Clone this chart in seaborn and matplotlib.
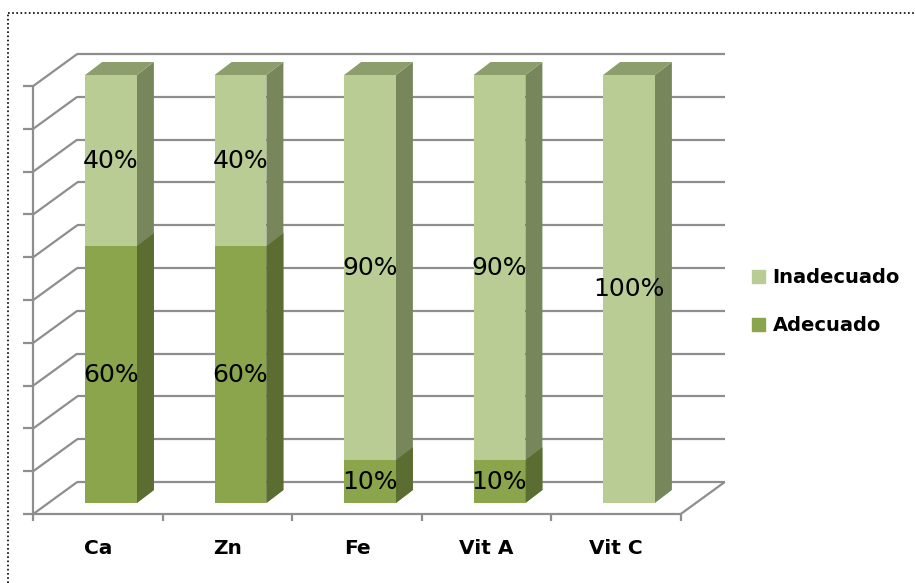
import matplotlib
matplotlib.use("Agg")
import matplotlib.pyplot as plt
import matplotlib.transforms as mtransforms
from matplotlib.patches import Polygon, Patch
from matplotlib.lines import Line2D
import seaborn as sns
import pandas as pd

# Data
categories = ["Ca", "Zn", "Fe", "Vit A", "Vit C"]
adecuado = [60, 60, 10, 10, 0]
inadecuado = [40, 40, 90, 90, 100]
series_labels = ["Inadecuado", "Adecuado"]
grid_levels = list(range(0, 101, 10))

# Styling
LIGHT = {"front": "#B9CC94", "side": "#77875B", "top": "#8C9E6C"}
DARK = {"front": "#8AA54C", "side": "#5B6D31"}
GRID = "#8E8E8E"

sns.set_theme(style="white")
plt.rcParams["font.family"] = ["DejaVu Sans"]
plt.rcParams["text.color"] = "black"

W, H = 915, 583
fig = plt.figure(figsize=(W / 100, H / 100), dpi=100)
ax = fig.add_axes([46.25 / W, 80 / H, 647.5 / W, 428 / H])

df = pd.DataFrame({"Nutriente": categories,
                   "Adecuado": adecuado,
                   "Inadecuado": inadecuado})
df["Total"] = df["Adecuado"] + df["Inadecuado"]

# Front faces of the stacked bars
sns.barplot(data=df, x="Nutriente", y="Total", color=LIGHT["front"],
            saturation=1, width=0.4, linewidth=0, errorbar=None,
            ax=ax, zorder=3)
n_total = len(ax.patches)
sns.barplot(data=df, x="Nutriente", y="Adecuado", color=DARK["front"],
            saturation=1, width=0.4, linewidth=0, errorbar=None,
            ax=ax, zorder=3)

ax.set_xlim(-0.5, len(categories) - 0.5)
ax.set_ylim(0, 100)
ax.axis("off")

# pixel -> data deltas (y measured upward)
p0 = ax.transData.transform((0, 0))
px_x = ax.transData.transform((1, 0))[0] - p0[0]
px_y = ax.transData.transform((0, 1))[1] - p0[1]


def d(dx_px, dy_px):
    return dx_px / px_x, dy_px / px_y


FRONT = d(-13, -11)   # front edge of the floor
BACK = d(31, 21)      # back wall
BAR = d(17, 13)       # depth of each bar

x_lo, x_hi = -0.5, len(categories) - 0.5
line_kw = dict(color=GRID, lw=1.6, clip_on=False, zorder=1,
               solid_capstyle="butt")

# Back wall gridlines and left wall diagonals
for lv in grid_levels:
    ax.plot([x_lo + BACK[0], x_hi + BACK[0]], [lv + BACK[1]] * 2, **line_kw)
    ax.plot([x_lo + FRONT[0], x_lo + BACK[0]],
            [lv + FRONT[1], lv + BACK[1]], **line_kw)
    # value axis ticks
    tx, ty = d(-10, 0)
    ax.plot([x_lo + FRONT[0] + tx, x_lo + FRONT[0]], [lv + FRONT[1]] * 2,
            **line_kw)

# Front value axis
ax.plot([x_lo + FRONT[0]] * 2, [FRONT[1], 100 + FRONT[1]], **line_kw)
# Front floor edge and right floor edge
ax.plot([x_lo + FRONT[0], x_hi + FRONT[0]], [FRONT[1]] * 2, **line_kw)
ax.plot([x_hi + FRONT[0], x_hi + BACK[0]], [FRONT[1], BACK[1]], **line_kw)
# Category ticks
_, tdy = d(0, -7)
for k in range(len(categories) + 1):
    xb = x_lo + k + FRONT[0]
    ax.plot([xb, xb], [FRONT[1], FRONT[1] + tdy], **line_kw)

# 3D sides and tops of the bars


def side(patch, color, z):
    x1 = patch.get_x() + patch.get_width()
    y0 = patch.get_y()
    y1 = y0 + patch.get_height()
    pts = [(x1, y0), (x1, y1), (x1 + BAR[0], y1 + BAR[1]),
           (x1 + BAR[0], y0 + BAR[1])]
    ax.add_patch(Polygon(pts, closed=True, facecolor=color, edgecolor="none",
                         clip_on=False, zorder=z))


def top(patch, color, z):
    x0 = patch.get_x()
    x1 = x0 + patch.get_width()
    y1 = patch.get_y() + patch.get_height()
    pts = [(x0, y1), (x1, y1), (x1 + BAR[0], y1 + BAR[1]),
           (x0 + BAR[0], y1 + BAR[1])]
    ax.add_patch(Polygon(pts, closed=True, facecolor=color, edgecolor="none",
                         clip_on=False, zorder=z))


for p in ax.patches[:n_total]:
    side(p, LIGHT["side"], 2.5)
    top(p, LIGHT["top"], 2.5)
for p in list(ax.patches[n_total:2 * n_total]):
    if p.get_height() > 0:
        side(p, DARK["side"], 2.6)

# Value labels on the front faces
for i in range(len(categories)):
    segs = [(0, adecuado[i]), (adecuado[i], inadecuado[i])]
    for base, val in segs:
        if val > 0:
            ax.text(i, base + val / 2, f"{val}%", ha="center", va="center",
                    fontsize=18, color="black", zorder=5)

# Category labels under the floor
lab_t = mtransforms.offset_copy(ax.transData, fig=fig, x=0, y=-45,
                                units="dots")
for i, c in enumerate(categories):
    ax.text(i + FRONT[0], 0, c, transform=lab_t, ha="center", va="center",
            fontsize=14.5, fontweight="bold", color="black")

# Legend
handles = [Patch(color=LIGHT["front"]), Patch(color=DARK["front"])]
leg = fig.legend(handles, series_labels, loc="center left",
                 bbox_to_anchor=(752 / W, 281.5 / H), frameon=False,
                 prop={"weight": "bold", "size": 14},
                 handlelength=0.65, handleheight=0.65, handletextpad=0.4,
                 labelspacing=1.5, borderpad=0, borderaxespad=0)
for t in leg.get_texts():
    t.set_color("black")

# Dotted frame along the top and left
fig.add_artist(Line2D([8 / W, 1], [1 - 13 / H] * 2, transform=fig.transFigure,
                      ls=(0, (1, 1.5)), color="black", lw=1.2))
fig.add_artist(Line2D([8 / W] * 2, [0, 1 - 13 / H], transform=fig.transFigure,
                      ls=(0, (1, 1.5)), color="black", lw=1.2))

fig.savefig("out.png", dpi=100, facecolor="white")
